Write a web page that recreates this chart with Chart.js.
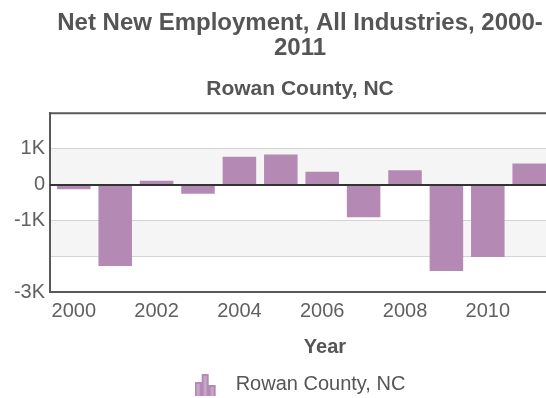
<!DOCTYPE html>
<html>
<head>
<meta charset="utf-8">
<script src="https://cdn.jsdelivr.net/npm/chart.js@4/dist/chart.umd.min.js"></script>
<style>
  html, body { margin: 0; padding: 0; background: #fff; overflow: hidden; }
  #wrap { width: 600px; height: 398px; }
</style>
</head>
<body>
<div id="wrap"><canvas id="chart" width="600" height="398"></canvas></div>
<script>
// net new jobs per year, Rowan County NC
const years = [2000, 2001, 2002, 2003, 2004, 2005, 2006, 2007, 2008, 2009, 2010, 2011];
const netNew = [-130, -2270, 110, -250, 780, 845, 366, -910, 405, -2410, -2020, 590];
const xTicks = [2000, 2002, 2004, 2006, 2008, 2010];
const yTicks = [2000, 1000, 0, -1000, -2000, -3000];
const yTickLabels = ['', '1K', '0', '-1K', '', '-3K'];
const bands = [[0, 1000], [-2000, -1000]];

const font = 'Liberation Sans';
const barColor = '#b48ab4';

// small bar-chart icon for the legend (left part of a wider transparent box)
function legendIcon() {
  const c = document.createElement('canvas');
  c.width = 31;
  c.height = 24;
  const g = c.getContext('2d');
  g.fillStyle = barColor;
  g.fillRect(0, 10, 7, 14);
  g.fillRect(7, 2, 7, 22);
  g.fillRect(14, 13, 7, 11);
  g.fillStyle = 'rgba(255,255,255,0.25)';
  g.fillRect(2, 12, 3, 12);
  g.fillRect(9, 4, 3, 20);
  g.fillRect(16, 15, 3, 9);
  return c;
}

// alternating bands behind the grid, zero line and top frame on top
const plotDeco = {
  id: 'plotDeco',
  beforeDraw(chart) {
    const { ctx, chartArea, scales } = chart;
    ctx.save();
    ctx.fillStyle = '#f5f5f5';
    bands.forEach(b => {
      const y1 = scales.y.getPixelForValue(b[1]);
      const y0 = scales.y.getPixelForValue(b[0]);
      ctx.fillRect(chartArea.left, y1, chartArea.right - chartArea.left, y0 - y1);
    });
    ctx.restore();
  },
  afterDatasetsDraw(chart) {
    const { ctx, chartArea, scales } = chart;
    const y = Math.round(scales.y.getPixelForValue(0));
    ctx.save();
    ctx.strokeStyle = '#333';
    ctx.lineWidth = 2;
    ctx.beginPath();
    ctx.moveTo(chartArea.left, y);
    ctx.lineTo(chartArea.right, y);
    ctx.stroke();
    ctx.restore();
  },
  afterDraw(chart) {
    const { ctx, chartArea } = chart;
    ctx.save();
    ctx.strokeStyle = '#595959';
    ctx.lineWidth = 2;
    ctx.beginPath();
    ctx.moveTo(chartArea.left - 1, chartArea.top);
    ctx.lineTo(chartArea.right, chartArea.top);
    ctx.stroke();
    ctx.restore();
  }
};

new Chart(document.getElementById('chart'), {
  type: 'bar',
  plugins: [plotDeco],
  data: {
    datasets: [{
      label: 'Rowan County, NC',
      data: years.map((yr, i) => ({ x: yr, y: netNew[i] })),
      backgroundColor: barColor,
      borderWidth: 0,
      categoryPercentage: 1,
      barPercentage: 0.81,
      pointStyle: legendIcon()
    }]
  },
  options: {
    responsive: false,
    animation: false,
    layout: { padding: { top: 0, right: 0, bottom: -6, left: 0 } },
    plugins: {
      tooltip: { enabled: false },
      title: {
        display: true,
        text: ['Net New Employment, All Industries, 2000-', '2011'],
        color: '#555',
        font: { family: font, size: 24, weight: 'bold', lineHeight: 25 / 24 },
        padding: { top: 11, bottom: 0 }
      },
      subtitle: {
        display: true,
        text: 'Rowan County, NC',
        color: '#555',
        font: { family: font, size: 21, weight: 'bold' },
        padding: { top: 16, bottom: 11 }
      },
      legend: {
        position: 'bottom',
        labels: {
          usePointStyle: true,
          pointStyleWidth: 31,
          color: '#555',
          font: { family: font, size: 20 },
          padding: 6
        }
      }
    },
    scales: {
      x: {
        type: 'linear',
        offset: false,
        min: 1999.425,
        max: 2012.71,
        afterBuildTicks: s => { s.ticks = xTicks.map(v => ({ value: v })); },
        grid: { display: false, drawTicks: false },
        border: { color: '#595959', width: 2 },
        ticks: {
          color: '#606060',
          padding: 7,
          font: { family: font, size: 20 },
          callback: v => String(v)
        },
        title: {
          display: true,
          text: 'Year',
          color: '#555',
          font: { family: font, size: 20, weight: 'bold' },
          padding: { top: 5, bottom: 9 }
        }
      },
      y: {
        min: -3000,
        max: 2000,
        afterBuildTicks: s => { s.ticks = yTicks.map(v => ({ value: v })); },
        afterFit: s => { s.width = 50; },
        grid: {
          color: c => (c.tick && (c.tick.value === 2000 || c.tick.value === 0)) ? 'rgba(0,0,0,0)' : '#d4d4d4',
          drawTicks: false
        },
        border: { color: '#595959', width: 2 },
        ticks: {
          color: '#606060',
          padding: 5,
          font: { family: font, size: 20 },
          callback: v => yTickLabels[yTicks.indexOf(v)]
        }
      }
    }
  }
});
</script>
</body>
</html>
